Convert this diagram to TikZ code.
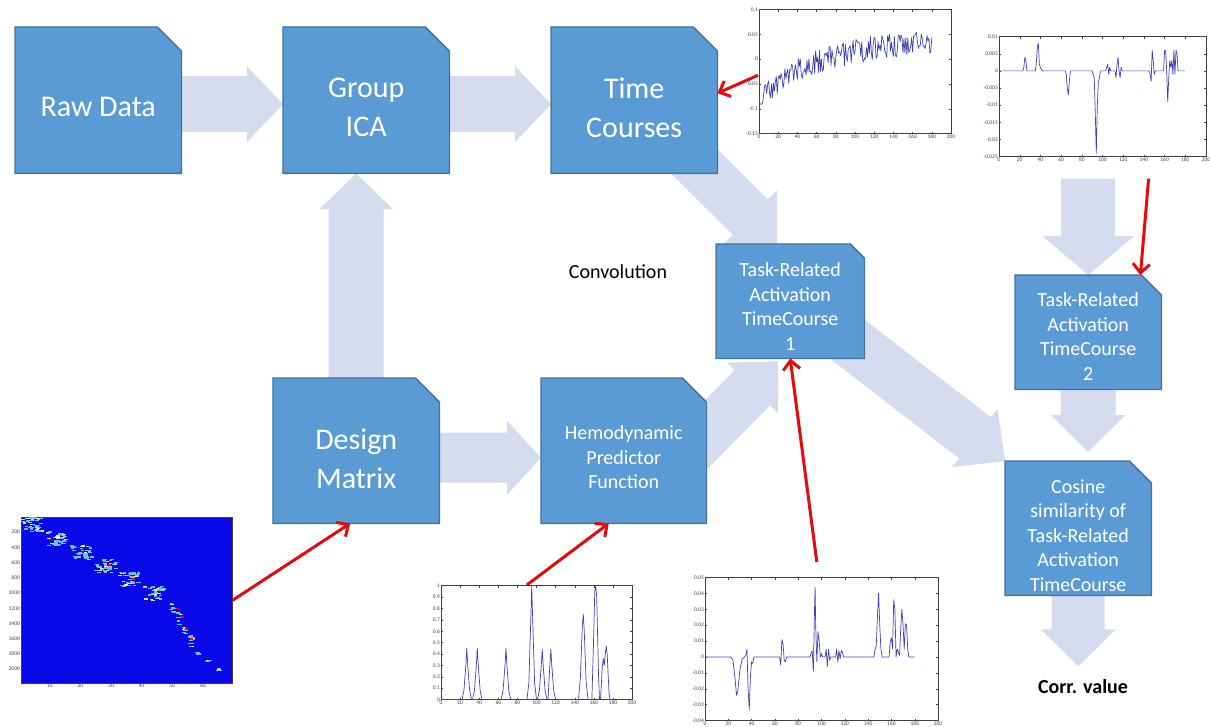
\documentclass[tikz,border=0pt]{standalone}
\usepackage{fontspec}
\setmainfont{Carlito}
\usetikzlibrary{arrows.meta,calc,positioning}

\definecolor{boxfill}{RGB}{91,155,213}
\definecolor{boxline}{RGB}{65,113,156}
\definecolor{flowfill}{RGB}{214,220,240}
\definecolor{hotred}{RGB}{232,10,10}
\definecolor{plotline}{RGB}{64,64,184}
\definecolor{matblue}{RGB}{8,8,232}
\definecolor{matcyan}{RGB}{110,190,255}
\definecolor{matyellow}{RGB}{235,235,150}

\pgfdeclarelayer{background}
\pgfdeclarelayer{boxes}
\pgfsetlayers{background,boxes,main}

% pale block arrow: from, to, shaft half width, head half width, head length
\newcommand{\fatarrow}[5]{%
  \coordinate (fa-h) at ($(#2)!#5!(#1)$);
  \fill[flowfill] ($(#1)!#3!90:(#2)$) -- ($(fa-h)!#3!90:(#2)$) -- ($(fa-h)!#4!90:(#2)$)
    -- (#2) -- ($(fa-h)!#4!-90:(#2)$) -- ($(fa-h)!#3!-90:(#2)$)
    -- ($(#1)!#3!-90:(#2)$) -- cycle;}

% stage outline with the top right corner cut off: node, cut
\newcommand{\snip}[2]{%
  \filldraw[fill=boxfill, draw=boxline, line width=1.3pt] (#1.south west) -- (#1.north west)
    -- ($(#1.north east)+(-#2,0)$) -- ($(#1.north east)+(0,#2)$) -- (#1.south east) -- cycle;}

% centred stage text, pushed down by half of #1
\newcommand{\stagetext}[2]{\begin{minipage}{140pt}\centering\vspace*{#1}#2\end{minipage}}

\begin{document}
\begin{tikzpicture}[x=1pt, y=-1pt,
    stage/.style={rectangle, inner sep=0pt, text=white, anchor=north west},
    bigtext/.style={font=\fontsize{30}{39}\selectfont},
    smalltext/.style={font=\fontsize{20}{24.5}\selectfont},
    plotframe/.style={draw=black!75, line width=0.6pt, inner sep=0pt, anchor=north west},
    ticklab/.style={font=\fontsize{5.5}{6}\selectfont, text=black!75, inner sep=1pt},
    tickmark/.style={draw=black!75, line width=0.4pt},
    curve/.style={draw=plotline, line width=0.7pt, line join=round},
    redarrow/.style={draw=hotred, line width=3pt,
      -{Straight Barb[length=9pt,width=17pt,line width=3pt]}}
]
\useasboundingbox (0,0) rectangle (1210,727);

% Pipeline stages
\node[stage, bigtext, minimum width=166pt, minimum height=146pt] (raw) at (15,27) {\stagetext{14pt}{Raw Data}};
\node[stage, bigtext, minimum width=166pt, minimum height=146pt] (ica) at (283,27) {\stagetext{15pt}{Group\\ICA}};
\node[stage, bigtext, minimum width=166pt, minimum height=146pt] (tc) at (551,27) {\stagetext{15pt}{Time\\Courses}};
\node[stage, bigtext, minimum width=166pt, minimum height=145pt] (dm) at (273,378) {\stagetext{16pt}{Design\\Matrix}};
\node[stage, smalltext, minimum width=165pt, minimum height=145pt] (hpf) at (541,378) {\stagetext{13pt}{Hemodynamic\\Predictor\\Function}};
\node[stage, smalltext, minimum width=148pt, minimum height=114pt] (tr1) at (716,244) {\stagetext{11pt}{Task-Related\\Activation\\TimeCourse\\1}};
\node[stage, smalltext, minimum width=146pt, minimum height=114pt] (tr2) at (1015,275) {\stagetext{9pt}{Task-Related\\Activation\\TimeCourse\\2}};
\node[stage, smalltext, minimum width=146pt, minimum height=134pt] (cos) at (1005,461) {\stagetext{14pt}{Cosine\\similarity of\\Task-Related\\Activation\\TimeCourse}};

\begin{pgfonlayer}{boxes}
  \snip{raw}{24}
  \snip{ica}{24}
  \snip{tc}{24}
  \snip{dm}{24}
  \snip{hpf}{24}
  \snip{tr1}{14}
  \snip{tr2}{20}
  \snip{cos}{22}
\end{pgfonlayer}

% Labels
\node[font=\fontsize{20}{24}\selectfont] (conv) at (618,272) {Convolution};
\node[font=\bfseries\fontsize{20}{24}\selectfont] (corr) at (1083,687) {Corr. value};

% Time course plot
\node[plotframe, minimum width=192pt, minimum height=124pt] (tcplot) at (759,9) {};
\begin{scope}[shift={(tcplot.south west)}, x=0.96pt, y=496pt, yshift=74.4pt]
  \foreach \v in {-0.15,-0.1,-0.05,0,0.05,0.1} {
    \node[ticklab, anchor=east] at (0,\v) {\v};
    \draw[tickmark] (0,\v) -- ++(2pt,0) (200,\v) -- ++(-2pt,0);
  }
  \foreach \u in {0,20,...,200} {
    \node[ticklab, anchor=north] at (\u,-0.15) {\u};
    \draw[tickmark] (\u,-0.15) -- ++(0,2pt) (\u,0.1) -- ++(0,-2pt);
  }
  \pgfmathsetseed{11}
  \draw[curve] plot[domain=0:180, samples=181]
    (\x, {-0.085+0.1*(1-exp(-\x/45))+0.00012*\x+0.025*rand});
\end{scope}

% Second activation time course plot
\node[plotframe, minimum width=207pt, minimum height=120pt] (tr2plot) at (999,36) {};
\begin{scope}[shift={(tr2plot.south west)}, x=1.035pt, y=3428.6pt, yshift=85.7pt]
  \foreach \v in {-0.025,-0.02,-0.015,-0.01,-0.005,0,0.005,0.01} {
    \node[ticklab, anchor=east] at (0,\v) {\v};
    \draw[tickmark] (0,\v) -- ++(2pt,0) (200,\v) -- ++(-2pt,0);
  }
  \foreach \u in {0,20,...,200} {
    \node[ticklab, anchor=north] at (\u,-0.025) {\u};
    \draw[tickmark] (\u,-0.025) -- ++(0,2pt) (\u,0.01) -- ++(0,-2pt);
  }
  \draw[curve] plot coordinates {(0,0) (23,0) (24,0.001) (25,0.004) (26,0.003) (27,0)
    (35,0) (36,0.002) (37,0.007) (38,0.008) (39,0.002) (40,0.001) (42,0)
    (64,0) (65,-0.001) (66,-0.005) (67,-0.007) (68,-0.003) (69,0)
    (90,0) (91,-0.001) (92,-0.002) (93,-0.012) (94,-0.024) (95,-0.01) (96,-0.003) (97,-0.002) (98,0)
    (103,0) (104,0.001) (105,0.002) (106,-0.001) (107,0.001) (108,0)
    (112,0) (113,-0.002) (114,0.002) (115,0.004) (116,0) (117,-0.002) (118,0.001) (119,0)
    (145,0) (146,-0.001) (147,-0.003) (148,0.006) (149,0.003) (150,-0.001) (151,0)
    (159,0) (160,0.006) (161,0.006) (162,0) (163,-0.009) (164,-0.002) (165,0.003) (166,0.001)
    (167,0.003) (168,-0.001) (169,0.006) (170,-0.001) (171,0.006) (172,0.005) (173,0) (180,0)};
\end{scope}

% Design matrix image
\node[plotframe, fill=matblue, minimum width=211pt, minimum height=166pt] (matplot) at (21,517) {};
\begin{scope}[shift={(matplot.north west)}, x=3.06pt, y=-0.0761pt, xshift=-1.8pt]
  \foreach \r in {200,400,...,2000}
    \node[ticklab, anchor=east] at (0.6,\r) {\r};
  \foreach \c in {10,20,...,60}
    \node[ticklab, anchor=north] at (\c,2181) {\c};
  \pgfmathsetseed{3}
  \foreach \ca/\cb/\ra/\rb/\n in {0.6/8.4/0/190/45, 8.5/16/190/370/40, 16.5/24.5/370/560/40,
      24.5/32.5/550/730/40, 32/40/720/900/40, 40.5/48.5/900/1090/40, 49/51.5/1100/1260/10,
      51/53.5/1250/1420/10, 53/55.5/1400/1530/8, 55/57.5/1540/1700/10, 57/60/1740/1800/5,
      60.5/63.5/1870/1910/4, 64/68.5/1980/2020/5} {
    \foreach \k in {1,...,\n} {
      \pgfmathsetmacro\px{\ca+(\cb-\ca-1.2)*rnd}
      \pgfmathsetmacro\py{\ra+(\rb-\ra)*rnd}
      \pgfmathsetmacro\pc{rnd}
      \ifdim\pc pt>0.82pt \def\mc{matyellow}\else\def\mc{matcyan}\fi
      \fill[\mc] (\px,\py) rectangle ++(1.2,16);
    }
  }
  \foreach \px/\py in {51.2/1190, 52.8/1300, 54.3/1460, 55.8/1590, 29/620, 37/800}
    \fill[red] (\px,\py) rectangle ++(0.9,22);
\end{scope}

% Hemodynamic predictor plot
\node[plotframe, minimum width=191pt, minimum height=114pt] (hpfplot) at (441,585) {};
\begin{scope}[shift={(hpfplot.south west)}, x=0.955pt, y=114pt]
  \foreach \v in {0,0.1,0.2,0.3,0.4,0.5,0.6,0.7,0.8,0.9,1} {
    \node[ticklab, anchor=east] at (0,\v) {\v};
    \draw[tickmark] (0,\v) -- ++(2pt,0) (200,\v) -- ++(-2pt,0);
  }
  \foreach \u in {0,20,...,200} {
    \node[ticklab, anchor=north] at (\u,0) {\u};
    \draw[tickmark] (\u,0) -- ++(0,2pt) (\u,1) -- ++(0,-2pt);
  }
  \draw[curve] plot coordinates {(0,0) (22,0) (24,0.08) (26,0.3) (27,0.45) (28,0.3) (30,0.08) (32,0)
    (33,0) (35,0.08) (37,0.3) (38,0.45) (39,0.3) (41,0.08) (43,0)
    (63,0) (65,0.08) (67,0.3) (68,0.45) (69,0.3) (71,0.08) (73,0)
    (90,0) (92,0.15) (94,0.7) (95,1) (96,0.7) (98,0.15) (100,0)
    (101,0) (103,0.08) (105,0.3) (106,0.44) (107,0.3) (109,0.08) (111,0)
    (112,0) (114,0.3) (115,0.44) (116,0.3) (118,0.08) (120,0)
    (144,0) (146,0.2) (148,0.65) (149,0.75) (150,0.6) (152,0.15) (154,0)
    (158,0) (160,0.6) (161,0.95) (162,1) (163,0.9) (165,0.2) (166,0)
    (167,0) (169,0.3) (170,0.36) (171,0.3) (172,0.4) (173,0.47) (174,0.4) (176,0.05) (177,0) (180,0)};
\end{scope}

% First activation time course plot
\node[plotframe, minimum width=233pt, minimum height=143pt] (tr1plot) at (705,577) {};
\begin{scope}[shift={(tr1plot.south west)}, x=1.165pt, y=1589pt, yshift=63.6pt]
  \foreach \v in {-0.04,-0.03,-0.02,-0.01,0,0.01,0.02,0.03,0.04,0.05} {
    \node[ticklab, anchor=east] at (0,\v) {\v};
    \draw[tickmark] (0,\v) -- ++(2pt,0) (200,\v) -- ++(-2pt,0);
  }
  \foreach \u in {0,20,...,200} {
    \node[ticklab, anchor=north] at (\u,-0.04) {\u};
    \draw[tickmark] (\u,-0.04) -- ++(0,2pt) (\u,0.05) -- ++(0,-2pt);
  }
  \draw[curve] plot coordinates {(0,0) (22,0) (24,-0.002) (26,-0.015) (27,-0.024) (28,-0.022)
    (30,-0.008) (32,-0.001) (34,0) (35,0.001) (36,0.005) (37,-0.02) (38,-0.033) (39,-0.012)
    (40,-0.003) (41,-0.004) (42,0) (64,0) (65,-0.005) (66,0.011) (67,0.008) (68,-0.002)
    (69,-0.003) (70,0) (90,0) (91,0.002) (92,0.004) (93,-0.009) (94,0.03) (94.5,0.044)
    (95,0.02) (96,-0.003) (97,0.016) (98,0.01) (99,0) (100,0.002) (101,0)
    (103,0) (104,0.005) (105,-0.006) (106,0.005) (107,-0.002) (108,0)
    (112,0) (113,0.005) (114,-0.003) (115,0.004) (116,-0.001) (117,0.004) (118,0.003) (119,0)
    (145,0) (146,0.005) (147,0.007) (148,0.025) (149,0.04) (150,0.02) (151,0.005) (152,0)
    (158,0) (159,0.01) (160,0.012) (161,0.005) (162,0.036) (163,0.03) (164,0) (165,0.005)
    (166,0.003) (167,0.001) (168,0.018) (169,0.03) (170,0.02) (171,0.005) (172,0.021)
    (173,0.02) (174,0.005) (175,0) (180,0)};
\end{scope}

% Block arrows behind the stages
\coordinate (raw-out) at ($(raw.east)+(0,4)$);
\coordinate (ica-in) at ($(ica.west)+(0,4)$);
\coordinate (ica-out) at ($(ica.east)+(0,4)$);
\coordinate (tc-in) at ($(tc.west)+(0,4)$);
\coordinate (tc-out) at ($(tc.south east)+(-37,-26)$);
\coordinate (tr1-top) at ($(tr1.north)+(-13,0)$);
\coordinate (hpf-out) at ($(hpf.east)+(-16,0)$);
\coordinate (tr1-low) at ($(tr1.south)+(-12,3)$);
\coordinate (tr1-out) at ($(tr1.south east)+(-44,-40)$);
\coordinate (dm-out) at ($(dm.east)+(0,7)$);
\coordinate (hpf-in) at ($(hpf.west)+(0,7)$);
\coordinate (tr2plot-out) at ($(tr2plot.south -| tr2.north)+(0,22)$);
\coordinate (cos-top) at ($(tr2.south |- cos.north)+(0,-9)$);
\coordinate (corr-top) at ($(corr.north -| cos.south)+(0,-10)$);
\begin{pgfonlayer}{background}
  \fatarrow{raw-out}{ica-in}{28pt}{38pt}{36pt}
  \fatarrow{ica-out}{tc-in}{28pt}{38pt}{36pt}
  \fatarrow{dm.north}{ica.south -| dm.north}{27.5pt}{37pt}{36pt}
  \fatarrow{dm-out}{hpf-in}{25pt}{37pt}{34pt}
  \fatarrow{tc-out}{tr1-top}{25pt}{38pt}{38pt}
  \fatarrow{hpf-out}{tr1-low}{25pt}{36pt}{37pt}
  \fatarrow{tr1-out}{cos.north west}{26pt}{37pt}{38pt}
  \fatarrow{tr2plot-out}{tr2.north}{27pt}{46pt}{39pt}
  \fatarrow{tr2.south}{cos-top}{27.5pt}{37.5pt}{37pt}
  \fatarrow{cos.south}{corr-top}{26.5pt}{37.5pt}{37pt}
\end{pgfonlayer}

% Red pointers from plots to stages
\draw[redarrow] ($(tcplot.west)+(-1,4)$) -- ($(tc.east)+(0,-7)$);
\draw[redarrow] ($(tr2plot.south east)+(-58,22)$) -- ($(tr2.north east)+(-21,0)$);
\draw[redarrow] (matplot.east) -- ($(dm.south)+(-6,0)$);
\draw[redarrow] ($(hpfplot.north)+(-10,0)$) -- ($(hpf.south)+(-15,0)$);
\draw[redarrow] ($(tr1plot.north)+(-5,-15)$) -- (tr1.south);

\end{tikzpicture}
\end{document}
